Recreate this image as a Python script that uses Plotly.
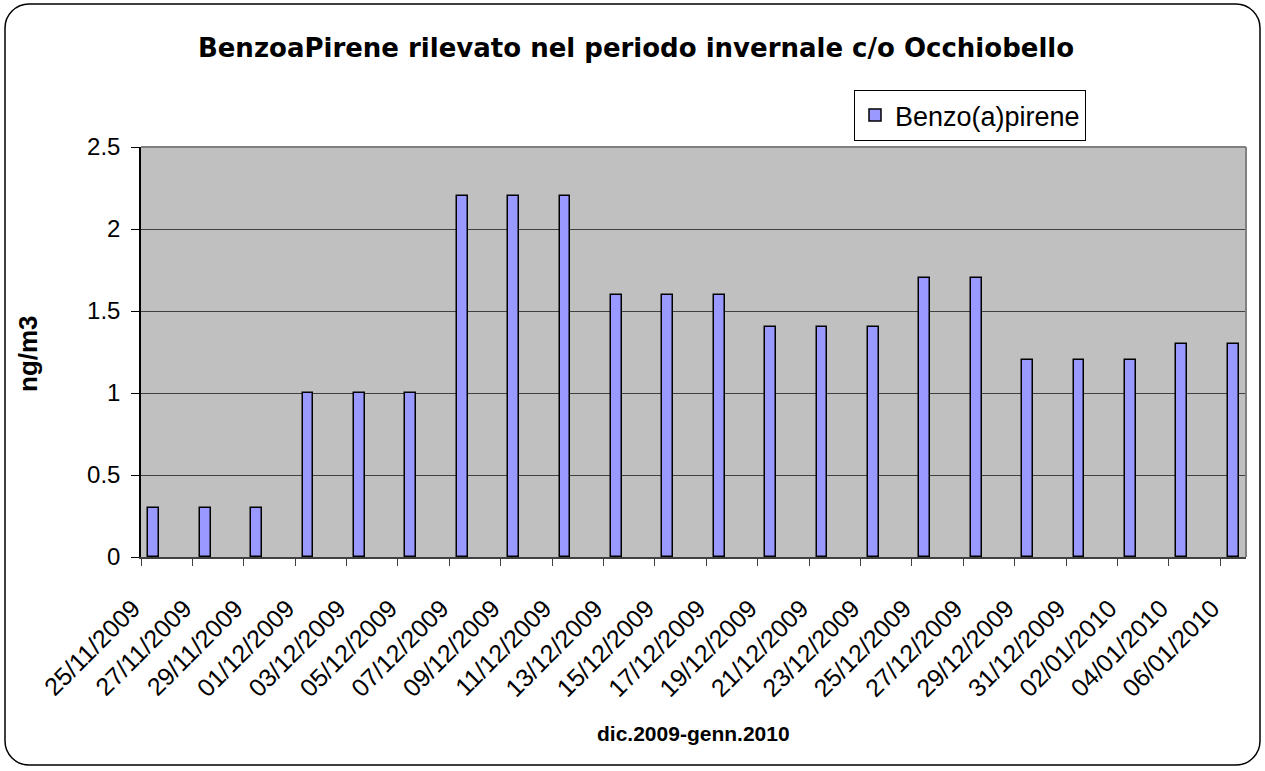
import plotly.graph_objects as go
import pandas as pd

# ---- data ----
dates = ["2009-11-25", "2009-11-27", "2009-11-29", "2009-12-01", "2009-12-03",
         "2009-12-05", "2009-12-07", "2009-12-09", "2009-12-11", "2009-12-13",
         "2009-12-15", "2009-12-17", "2009-12-19", "2009-12-21", "2009-12-23",
         "2009-12-25", "2009-12-27", "2009-12-29", "2009-12-31", "2010-01-02",
         "2010-01-04", "2010-01-06"]
values = [0.3, 0.3, 0.3, 1.0, 1.0, 1.0, 2.2, 2.2, 2.2, 1.6, 1.6, 1.6,
          1.4, 1.4, 1.4, 1.7, 1.7, 1.2, 1.2, 1.2, 1.3, 1.3]
tick_labels = ["25/11/2009", "27/11/2009", "29/11/2009", "01/12/2009", "03/12/2009",
               "05/12/2009", "07/12/2009", "09/12/2009", "11/12/2009", "13/12/2009",
               "15/12/2009", "17/12/2009", "19/12/2009", "21/12/2009", "23/12/2009",
               "25/12/2009", "27/12/2009", "29/12/2009", "31/12/2009", "02/01/2010",
               "04/01/2010", "06/01/2010"]
y_tick_vals = [0, 0.5, 1, 1.5, 2, 2.5]
y_tick_labels = ["0", "0.5", "1", "1.5", "2", "2.5"]
series_name = "Benzo(a)pirene"
title_text = "BenzoaPirene rilevato nel periodo invernale c/o Occhiobello"
x_title = "dic.2009-genn.2010"
y_title = "ng/m3"

FONT = "Liberation Sans, Arial, sans-serif"
W, H = 1265, 771
L, R, T, B = 141, 19, 147, 214
pw, ph = W - L - R, H - T - B

day_starts = pd.to_datetime(dates)
bar_x = day_starts + pd.Timedelta(hours=12)
x_end = day_starts[-1] + pd.Timedelta(days=1)

fig = go.Figure()
fig.add_trace(go.Bar(
    x=bar_x, y=values, name=series_name,
    width=0.42 * 86400000,
    marker=dict(color="#9999FF", line=dict(color="black", width=1.5)),
))

def px_to_paper(x, y):
    return (x - L) / pw, (H - B - y) / ph

def P(x, y):
    a, b = px_to_paper(x, y)
    return f"{a:.5f},{b:.5f}"

# rounded outer frame
x0, y0, x1, y1, r = 5, 4, 1260, 765, 24
k = 0.45
path = (f"M {P(x0 + r, y0)} L {P(x1 - r, y0)} "
        f"C {P(x1 - r * k, y0)} {P(x1, y0 + r * k)} {P(x1, y0 + r)} "
        f"L {P(x1, y1 - r)} "
        f"C {P(x1, y1 - r * k)} {P(x1 - r * k, y1)} {P(x1 - r, y1)} "
        f"L {P(x0 + r, y1)} "
        f"C {P(x0 + r * k, y1)} {P(x0, y1 - r * k)} {P(x0, y1 - r)} "
        f"L {P(x0, y0 + r)} "
        f"C {P(x0, y0 + r * k)} {P(x0 + r * k, y0)} {P(x0 + r, y0)} Z")
fig.add_shape(type="path", path=path, xref="paper", yref="paper",
              line=dict(color="black", width=1.5), layer="above")

# plot area border (top and right, grey)
fig.add_shape(type="line", xref="paper", yref="paper", x0=0, x1=1, y0=1, y1=1,
              line=dict(color="#808080", width=2), layer="above")
fig.add_shape(type="line", xref="paper", yref="paper", x0=1, x1=1, y0=0, y1=1,
              line=dict(color="#808080", width=2), layer="above")

ax, ay = px_to_paper(28, 354)
fig.add_annotation(text=f"<b>{y_title}</b>", xref="paper", yref="paper",
                   x=ax, y=ay, xanchor="center", yanchor="middle",
                   textangle=-90, showarrow=False,
                   font=dict(family=FONT, size=26, color="black"))
bx, by = px_to_paper(693, 733)
fig.add_annotation(text=f"<b>{x_title}</b>", xref="paper", yref="paper",
                   x=bx, y=by, xanchor="center", yanchor="middle", showarrow=False,
                   font=dict(family=FONT, size=21, color="black"))

lx, ly = px_to_paper(854, 90)
fig.update_layout(
    width=W, height=H,
    margin=dict(l=L, r=R, t=T, b=B, autoexpand=False),
    paper_bgcolor="white", plot_bgcolor="#C0C0C0",
    title=dict(text=f"<b>{title_text}</b>", x=636 / W, xref="container",
               y=1 - 48 / H, yref="container", xanchor="center", yanchor="middle",
               font=dict(family="DejaVu Sans, sans-serif", size=26, color="black")),
    showlegend=True,
    legend=dict(x=lx, y=ly, xanchor="left", yanchor="top",
                bgcolor="white", bordercolor="black", borderwidth=1,
                font=dict(family=FONT, size=27, color="black")),
    xaxis=dict(type="date", range=[day_starts[0], x_end],
               tickmode="array", tickvals=day_starts, ticktext=tick_labels,
               tickangle=-45, ticks="outside", ticklen=7, tickcolor="#404040",
               showline=True, linecolor="#404040", linewidth=1.5,
               showgrid=False, zeroline=False, ticklabelstandoff=18,
               ticklabelshift=-8,
               tickfont=dict(family=FONT, size=25, color="black")),
    yaxis=dict(range=[0, 2.5], tickmode="array", tickvals=y_tick_vals,
               ticktext=y_tick_labels,
               ticks="outside", ticklen=8, tickcolor="black",
               showline=True, linecolor="black", linewidth=1.5,
               showgrid=True, gridcolor="#404040", gridwidth=1, zeroline=False,
               ticklabelstandoff=6,
               tickfont=dict(family=FONT, size=24, color="black")),
    bargap=0,
)

fig.write_html("out.html", config={"displayModeBar": False},
               post_script="document.body.style.margin='0';")
